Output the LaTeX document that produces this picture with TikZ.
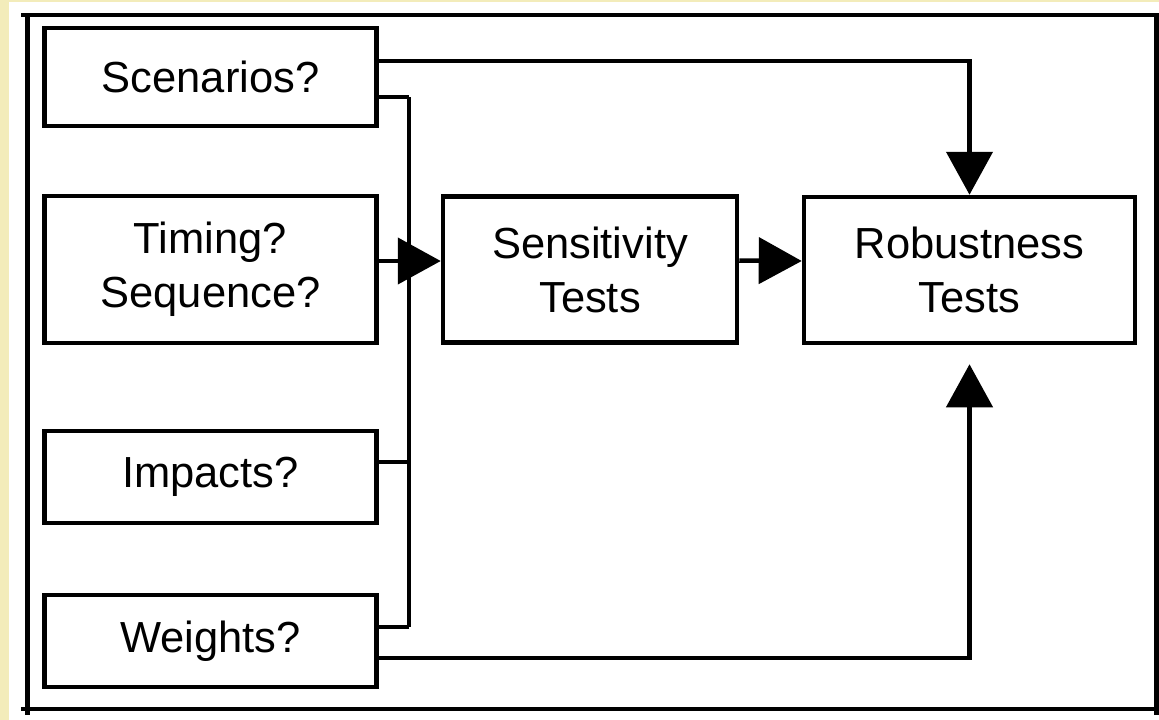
\documentclass[tikz,border=0pt]{standalone}
\usepackage{fontspec}
\setmainfont{Liberation Sans}
\usetikzlibrary{arrows.meta}
\definecolor{pagetint}{RGB}{243,236,186}
\begin{document}
\begin{tikzpicture}[x=1pt,y=-1pt,
  box/.style={draw,line width=4.5pt,rectangle,inner sep=0pt,align=center,
    font=\fontsize{43.5}{54}\selectfont},
  conn/.style={line width=4.5pt},
  arr/.style={conn,-{Triangle[length=43pt,width=46pt]}}]
\useasboundingbox (0,0) rectangle (1159,720);
% page background and tinted margins
\fill[white] (0,0) rectangle (1159,720);
\fill[pagetint] (0,0) rectangle (9,720);
\fill[pagetint] (0,0) rectangle (1159,1.5);
% outer frame
\draw[conn] (21,15) -- (1159,15);
\draw[conn] (27.5,13) -- (27.5,715);
\draw[conn] (21,709) -- (1154,709);
\draw[line width=5pt] (1156.5,13) -- (1156.5,715);
% question boxes
\node[box,minimum width=332pt,minimum height=98pt]  (scen) at (210.5,77)    {Scenarios?};
\node[box,minimum width=332pt,minimum height=147pt] (timing) at (210.5,269.5) {Timing?\\Sequence?};
\node[box,minimum width=332pt,minimum height=92pt]  (impacts) at (210.5,477) {Impacts?};
\node[box,minimum width=332pt,minimum height=92pt]  (weights) at (210.5,641) {Weights?};
% test boxes
\node[box,minimum width=294pt,minimum height=146pt] (sens) at (590,269.5) {Sensitivity\\Tests};
\node[box,minimum width=331pt,minimum height=146pt] (rob) at (969.5,270) {Robustness\\Tests};
% collecting bus
\coordinate (bustop) at (409,97);
\coordinate (busbot) at (409,627);
\coordinate (impout) at ([yshift=15pt]impacts.east);
\coordinate (robin) at ([yshift=-19pt]rob.south);
\draw[conn] (bustop) -- (busbot);
\draw[conn] ([yshift=-20pt]scen.east) -- (bustop);
\draw[conn] (impout) -- (impout -| bustop);
\draw[conn] ([yshift=14pt]weights.east) -- (busbot);
% arrows
\draw[arr] ([yshift=16pt]scen.east) -| (rob.north);
\draw[arr] ([yshift=8.5pt]timing.east) -- ([yshift=8.5pt]sens.west);
\draw[arr] ([yshift=9pt]sens.east) -- ([yshift=9pt]rob.west);
\draw[arr] ([yshift=-17pt]weights.east) -| (robin);
\end{tikzpicture}
\end{document}
